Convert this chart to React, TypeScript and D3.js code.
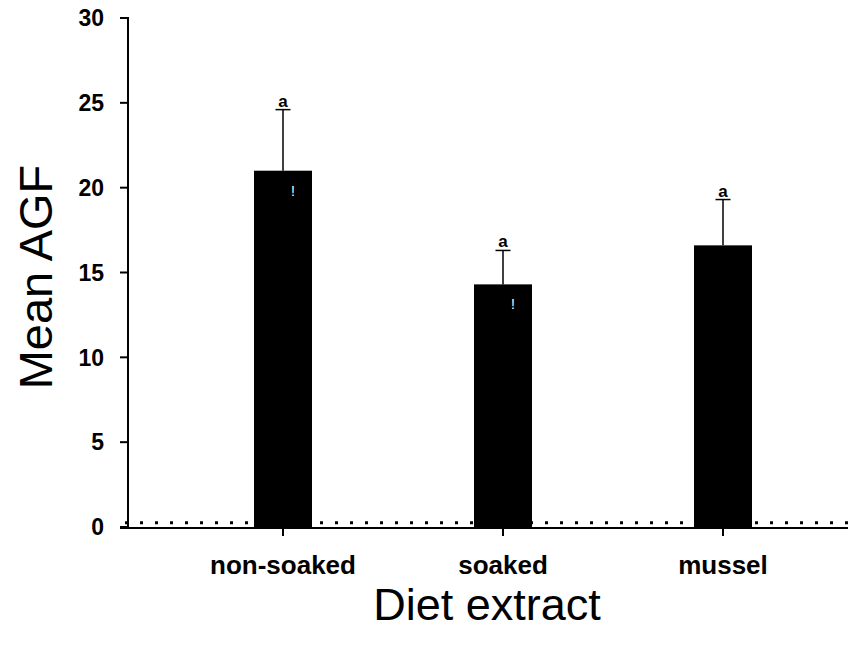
import * as d3 from "d3";

const categories = ["non-soaked", "soaked", "mussel"];
const means = [21.0, 14.3, 16.6];
const errors = [3.6, 2.0, 2.7];
const letters = ["a", "a", "a"];
const marks = ["!", "!", ""];
const yTicks = [0, 5, 10, 15, 20, 25, 30];
const controlLevel = 0.25;

export default function App() {
  const width = 848;
  const height = 648;
  const font = "'Liberation Sans', Arial, sans-serif";

  const x = d3.scalePoint<string>().domain(categories).range([283, 723]);
  const y = d3.scaleLinear().domain([0, 30]).range([527, 18]);
  const barW = 58;
  const capW = 15;
  const axisX = 128;
  const axisY = 528;

  return (
    <svg
      width={width}
      height={height}
      style={{ position: "absolute", left: 0, top: 0, background: "#fff" }}
      fontFamily={font}
    >
      {/* dotted control line */}
      <line
        x1={axisX - 3}
        x2={width}
        y1={y(controlLevel)}
        y2={y(controlLevel)}
        stroke="#000"
        strokeWidth={3}
        strokeDasharray="3,12"
      />

      {/* bars */}
      {categories.map((c, i) => (
        <g key={c}>
          <rect
            x={x(c)! - barW / 2}
            y={y(means[i])}
            width={barW}
            height={y(0) - y(means[i])}
            fill="#000"
          />
          <text
            x={x(c)! + 10}
            y={y(means[i]) + 25}
            textAnchor="middle"
            fontSize={14}
            fill="#fff"
            style={{ WebkitFontSmoothing: "antialiased" }}
          >
            {marks[i]}
          </text>
        </g>
      ))}

      {/* error bars and letters */}
      {categories.map((c, i) => {
        const cx = x(c)!;
        const top = y(means[i] + errors[i]);
        return (
          <g key={c + "-err"}>
            <line x1={cx} x2={cx} y1={y(means[i])} y2={top} stroke="#000" strokeWidth={1.5} />
            <line x1={cx - capW / 2} x2={cx + capW / 2} y1={top} y2={top} stroke="#000" strokeWidth={1.5} />
            <text x={cx} y={top - 3} textAnchor="middle" fontSize={17} fontWeight="bold">
              {letters[i]}
            </text>
          </g>
        );
      })}

      {/* y axis */}
      <line x1={axisX} x2={axisX} y1={y(30) - 1} y2={axisY + 1} stroke="#000" strokeWidth={2} />
      {yTicks.map((t) => (
        <g key={t}>
          <line x1={axisX - 8} x2={axisX} y1={y(t)} y2={y(t)} stroke="#000" strokeWidth={2} />
          <text
            x={axisX - 24}
            y={y(t)}
            dy="0.36em"
            textAnchor="end"
            fontSize={23}
            fontWeight="bold"
          >
            {t}
          </text>
        </g>
      ))}

      {/* x axis */}
      <line x1={axisX - 8} x2={width} y1={axisY} y2={axisY} stroke="#000" strokeWidth={2} />
      {categories.map((c) => (
        <g key={c + "-tick"}>
          <line x1={x(c)!} x2={x(c)!} y1={axisY} y2={axisY + 8} stroke="#000" strokeWidth={2} />
          <text x={x(c)!} y={574} textAnchor="middle" fontSize={26} fontWeight="bold">
            {c}
          </text>
        </g>
      ))}

      {/* axis titles */}
      <text x={487} y={620} textAnchor="middle" fontSize={45}>
        Diet extract
      </text>
      <text
        transform={`translate(52,277) rotate(-90)`}
        textAnchor="middle"
        fontSize={47}
      >
        Mean AGF
      </text>
    </svg>
  );
}
